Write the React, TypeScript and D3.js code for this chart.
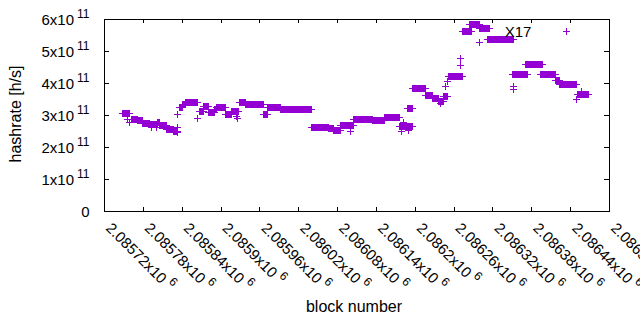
import { useEffect, useRef } from 'react'
import * as d3 from 'd3'

// x ticks (block number) and y ticks (hashrate)
const xTicks = [2085720, 2085780, 2085840, 2085900, 2085960, 2086020, 2086080, 2086140, 2086200, 2086260, 2086320, 2086380, 2086440, 2086500]
const xTickLabels = ['2.08572', '2.08578', '2.08584', '2.0859', '2.08596', '2.08602', '2.08608', '2.08614', '2.0862', '2.08626', '2.08632', '2.08638', '2.08644', '2.0865']
const yTicks = [0, 1e11, 2e11, 3e11, 4e11, 5e11, 6e11]
const yTickLabels = ['0', '1', '2', '3', '4', '5', '6']

// runs of blocks sharing the same estimate: [first block, last block, hashrate]
const runs: [number, number, number][] = [
  [2085748, 2085759, 3.06e11],
  [2085762, 2085771, 2.86e11],
  [2085771, 2085780, 2.83e11],
  [2085780, 2085791, 2.72e11],
  [2085791, 2085802, 2.70e11],
  [2085803, 2085805, 2.78e11],
  [2085806, 2085817, 2.66e11],
  [2085817, 2085827, 2.55e11],
  [2085827, 2085834, 2.47e11],
  [2085836, 2085842, 3.25e11],
  [2085842, 2085846, 3.32e11],
  [2085846, 2085864, 3.40e11],
  [2085867, 2085874, 3.10e11],
  [2085874, 2085882, 3.28e11],
  [2085882, 2085891, 3.08e11],
  [2085891, 2085894, 3.17e11],
  [2085894, 2085908, 3.25e11],
  [2085908, 2085917, 3.03e11],
  [2085917, 2085927, 3.10e11],
  [2085930, 2085938, 3.40e11],
  [2085938, 2085966, 3.34e11],
  [2085966, 2085973, 3.03e11],
  [2085973, 2085992, 3.23e11],
  [2085992, 2086040, 3.16e11],
  [2086040, 2086066, 2.61e11],
  [2086066, 2086074, 2.58e11],
  [2086074, 2086085, 2.53e11],
  [2086085, 2086105, 2.66e11],
  [2086105, 2086134, 2.86e11],
  [2086134, 2086154, 2.84e11],
  [2086154, 2086177, 2.92e11],
  [2086177, 2086196, 2.63e11],
  [2086188, 2086196, 3.20e11],
  [2086196, 2086216, 3.83e11],
  [2086216, 2086227, 3.60e11],
  [2086227, 2086236, 3.52e11],
  [2086236, 2086244, 3.42e11],
  [2086244, 2086251, 3.58e11],
  [2086252, 2086273, 4.20e11],
  [2086273, 2086288, 5.62e11],
  [2086285, 2086300, 5.83e11],
  [2086300, 2086316, 5.70e11],
  [2086313, 2086352, 5.37e11],
  [2086351, 2086374, 4.28e11],
  [2086371, 2086397, 4.58e11],
  [2086394, 2086417, 4.27e11],
  [2086417, 2086424, 4.08e11],
  [2086424, 2086450, 3.95e11],
  [2086452, 2086468, 3.65e11],
]

// isolated blocks: [block, hashrate]
const singles: [number, number][] = [
  [2085757, 2.85e11], [2085760, 2.78e11], [2085793, 2.60e11], [2085801, 2.60e11],
  [2085833, 2.62e11], [2085834, 2.44e11], [2085834, 3.03e11], [2085864, 2.90e11],
  [2085924, 2.95e11], [2085926, 2.90e11], [2086100, 2.50e11], [2086179, 2.47e11],
  [2086182, 2.78e11], [2086191, 2.52e11], [2086239, 3.37e11], [2086248, 3.88e11],
  [2086250, 4.04e11], [2086271, 4.78e11], [2086271, 4.56e11], [2086300, 5.28e11],
  [2086352, 3.90e11], [2086352, 3.80e11], [2086435, 5.60e11], [2086450, 3.50e11],
  [2086457, 3.72e11],
]

const labelBlock = 2086339
const labelValue = 5.6e11
const labelText = 'X17'

const color = '#9400d3'
const font = "'Liberation Sans', Arial, sans-serif"

export default function App() {
  const svgRef = useRef<SVGSVGElement>(null)

  useEffect(() => {
    if (!svgRef.current) return
    const svg = d3.select(svgRef.current)
    svg.selectAll('*').remove()

    const x = d3.scaleLinear().domain([2085720, 2086500]).range([104, 609])
    const y = d3.scaleLinear().domain([0, 6e11]).range([211, 19])
    const [x0, x1] = x.range()
    const [y0, y1] = y.range()

    const g = svg.append('g').style('font-family', font).style('font-size', '15px')

    // ticks (mirrored on all sides)
    const ticks = g.append('g').attr('stroke', '#000').attr('stroke-width', 1).attr('shape-rendering', 'crispEdges')
    yTicks.forEach(t => {
      const ty = Math.round(y(t)) + 0.5
      ticks.append('line').attr('x1', x0).attr('x2', x0 + 5).attr('y1', ty).attr('y2', ty)
      ticks.append('line').attr('x1', x1).attr('x2', x1 - 5).attr('y1', ty).attr('y2', ty)
    })
    xTicks.forEach(t => {
      const tx = Math.round(x(t)) + 0.5
      ticks.append('line').attr('x1', tx).attr('x2', tx).attr('y1', y0).attr('y2', y0 - 4)
      ticks.append('line').attr('x1', tx).attr('x2', tx).attr('y1', y1).attr('y2', y1 + 4)
    })

    // y tick labels
    yTicks.forEach((t, i) => {
      const txt = g.append('text')
        .attr('x', 89.5)
        .attr('y', y(t) + 6)
        .attr('text-anchor', 'end')
      if (t === 0) {
        txt.text(yTickLabels[i])
      } else {
        txt.append('tspan').text(yTickLabels[i] + 'x10')
        txt.append('tspan').attr('dx', 3).attr('dy', -7).style('font-size', '12px').text('11')
      }
    })

    // x tick labels, rotated
    xTicks.forEach((t, i) => {
      const px = x(t) + 1
      const txt = g.append('text')
        .attr('transform', `translate(${px},229) rotate(45)`)
      txt.append('tspan').text(xTickLabels[i] + 'x10')
      txt.append('tspan').attr('dx', 4).attr('dy', -7).style('font-size', '12px').text('6')
    })

    // axis titles
    g.append('text')
      .attr('x', 354)
      .attr('y', 312)
      .attr('text-anchor', 'middle')
      .style('font-size', '16px')
      .text('block number')

    g.append('text')
      .attr('transform', `translate(21,114) rotate(-90)`)
      .attr('text-anchor', 'middle')
      .style('font-size', '16px')
      .text('hashrate [h/s]')

    // data
    const pts = g.append('g').attr('shape-rendering', 'crispEdges')
    const half = 3.5

    runs.forEach(([b0, b1, v]) => {
      const xa = x(b0)
      const xb = x(b1)
      const cy = y(v)
      pts.append('rect')
        .attr('x', xa - 0.5)
        .attr('y', cy - half)
        .attr('width', Math.max(1, xb - xa + 1))
        .attr('height', half * 2)
        .attr('fill', color)
      pts.append('line')
        .attr('x1', xa - half).attr('x2', xb + half)
        .attr('y1', cy).attr('y2', cy)
        .attr('stroke', color).attr('stroke-width', 1)
    })

    singles.forEach(([b, v]) => {
      const cx = x(b)
      const cy = y(v)
      pts.append('path')
        .attr('d', `M${cx - half},${cy}H${cx + half}M${cx},${cy - half}V${cy + half}`)
        .attr('stroke', color)
        .attr('stroke-width', 1)
        .attr('fill', 'none')
    })

    // label
    g.append('text')
      .attr('x', x(labelBlock))
      .attr('y', y(labelValue))
      .attr('dominant-baseline', 'central')
      .text(labelText)

    // border
    g.append('rect')
      .attr('x', x0 + 0.5)
      .attr('y', y1 + 0.5)
      .attr('width', x1 - x0)
      .attr('height', y0 - y1)
      .attr('fill', 'none')
      .attr('stroke', '#000')
      .attr('stroke-width', 1)
      .attr('shape-rendering', 'crispEdges')
  }, [])

  return (
    <svg
      ref={svgRef}
      width={640}
      height={330}
      style={{ position: 'absolute', left: 0, top: 0, background: '#fff' }}
    />
  )
}
